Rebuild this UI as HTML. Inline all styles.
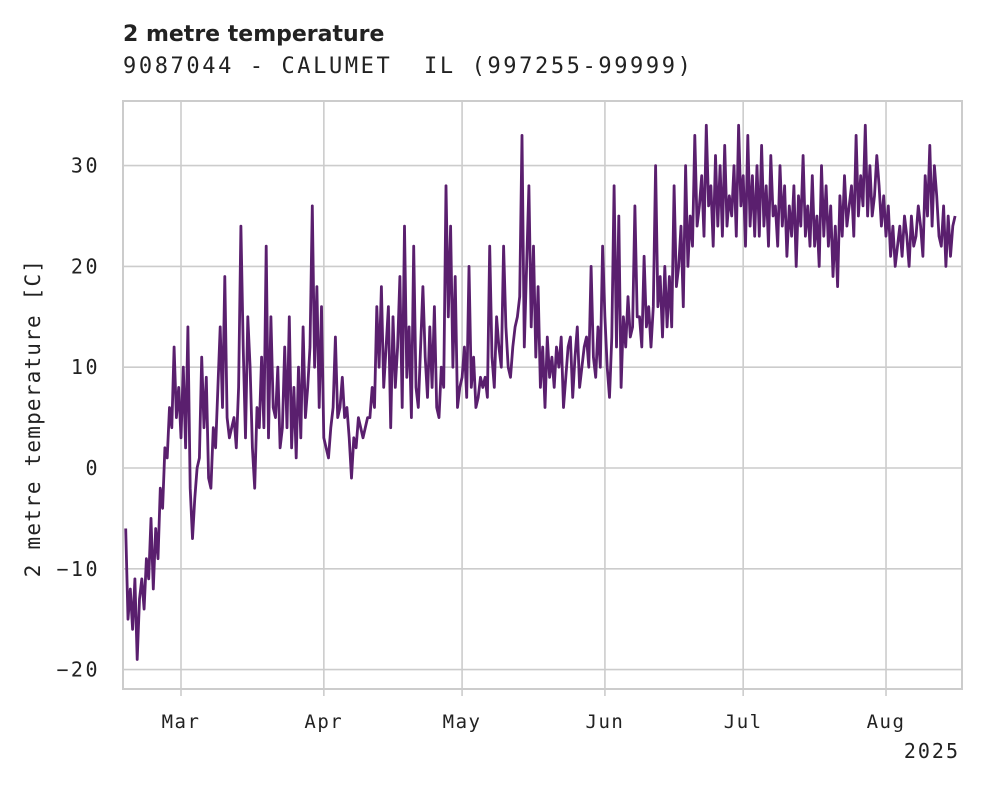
<!DOCTYPE html>
<html><head><meta charset="utf-8">
<style>
body{margin:0;background:#fff;width:981px;height:785px;overflow:hidden}
svg{display:block}
.mono{font-family:"DejaVu Sans Mono","Liberation Mono",monospace}
</style></head>
<body>
<svg id="chart" width="981" height="785">
  <text x="123" y="41" font-family="DejaVu Sans, Liberation Sans, sans-serif" font-weight="bold" font-size="22" fill="#222">2 metre temperature</text>
  <text x="123" y="73" class="mono" font-size="22" letter-spacing="2.6" fill="#222" xml:space="preserve">9087044 - CALUMET  IL (997255-99999)</text>
  <g id="grid"></g>
  <g id="axes"></g>
  <g id="series"></g>
  <rect x="123" y="101" width="839" height="588" fill="none" stroke="#ccc" stroke-width="2"/>
  <text transform="translate(40,418) rotate(-90)" text-anchor="middle" class="mono" font-size="21" letter-spacing="1.2" fill="#222">2 metre temperature [C]</text>
  <text x="960" y="758" text-anchor="end" class="mono" font-size="20" letter-spacing="2" fill="#222">2025</text>
</svg>
<script>
const yTicks=[-20,-10,0,10,20,30];
const monthLabels=["Mar","Apr","May","Jun","Jul","Aug"];
const monthDays=[12,43,73,104,134,165]; // days since Feb 17
const startDay=0, stepDays=0.5;
const temps=[
-6,-15,-12,-16,-11,-19,-13,-11,-14,-9,
-11,-5,-12,-6,-9,-2,-4,2,1,6,
4,12,5,8,3,10,2,14,-2,-7,
-3,0,1,11,4,9,-1,-2,4,2,
8,14,6,19,5,3,4,5,2,8,
24,12,3,15,10,2,-2,6,4,11,
4,22,3,15,6,5,10,2,4,12,
4,15,2,8,1,10,3,14,5,8,
12,26,10,18,6,16,3,2,1,4,
6,13,5,6,9,5,6,3,-1,3,
2,5,4,3,4,5,5,8,6,16,
10,18,8,12,16,4,15,8,12,19,
6,24,9,14,5,22,8,6,12,18,
11,7,14,8,16,6,5,10,8,28,
15,24,10,19,6,8,9,12,7,20,
8,11,6,7,9,8,9,7,22,11,
8,15,12,10,22,14,10,9,12,14,
15,17,33,12,20,28,14,22,11,18,
8,12,6,13,9,11,8,12,10,13,
6,9,12,13,7,11,14,8,10,12,
13,10,20,11,9,14,10,22,15,10,
7,13,28,12,25,8,15,12,17,13,
14,26,15,15,12,21,14,16,12,16,
30,16,19,13,20,14,19,14,28,18,
20,24,16,30,20,25,22,33,24,26,
29,23,34,26,28,22,31,24,30,23,
32,24,27,25,30,23,34,26,29,22,
33,24,29,23,30,23,32,24,28,22,
31,25,26,22,30,24,28,21,26,23,
28,20,27,24,31,23,26,22,29,22,
25,20,30,23,28,22,26,19,24,18,
27,23,29,24,26,28,23,33,25,29,
26,34,25,30,25,27,31,28,24,27,
23,26,21,24,20,22,24,21,25,23,
20,25,22,23,26,24,21,29,25,32,
24,30,27,23,22,26,20,25,21,24,
25];
const NS="http://www.w3.org/2000/svg";
const xScale=d=>125.7+d*4.608;
const yScale=v=>468-v*10.08;
const grid=document.getElementById('grid'), axes=document.getElementById('axes'), series=document.getElementById('series');
yTicks.forEach(t=>{
  const l=document.createElementNS(NS,'line');
  l.setAttribute('x1',123);l.setAttribute('x2',962);l.setAttribute('y1',yScale(t));l.setAttribute('y2',yScale(t));
  l.setAttribute('stroke','#ccc');l.setAttribute('stroke-width','1.6');
  
  
  grid.appendChild(l);
  const tx=document.createElementNS(NS,'text');
  tx.setAttribute('x',100);tx.setAttribute('y',yScale(t)+7);tx.setAttribute('text-anchor','end');
  tx.setAttribute('class','mono');tx.setAttribute('font-size','20');tx.setAttribute('letter-spacing','2.5');tx.setAttribute('fill','#222');
  tx.textContent=t<0?'\u2212'+Math.abs(t):String(t);
  
  
  axes.appendChild(tx);
});
monthDays.forEach((d,i)=>{
  const x=xScale(d);
  const l=document.createElementNS(NS,'line');
  l.setAttribute('x1',x);l.setAttribute('x2',x);l.setAttribute('y1',101);l.setAttribute('y2',689);
  l.setAttribute('stroke','#ccc');l.setAttribute('stroke-width','1.6');
  
  
  grid.appendChild(l);
  const tk=document.createElementNS(NS,'line');
  tk.setAttribute('x1',x);tk.setAttribute('x2',x);tk.setAttribute('y1',689);tk.setAttribute('y2',696);
  tk.setAttribute('stroke','#ccc');tk.setAttribute('stroke-width','1.6');
  
  
  axes.appendChild(tk);
  const tx=document.createElementNS(NS,'text');
  tx.setAttribute('x',x);tx.setAttribute('y',728);tx.setAttribute('text-anchor','middle');
  tx.setAttribute('class','mono');tx.setAttribute('font-size','19');tx.setAttribute('letter-spacing','1.5');tx.setAttribute('fill','#222');
  tx.textContent=monthLabels[i];
  
  
  axes.appendChild(tx);
});
const pts=temps.map((v,i)=>xScale(startDay+i*stepDays).toFixed(1)+','+yScale(v).toFixed(1)).join(' ');
const pl=document.createElementNS(NS,'polyline');
pl.setAttribute('points',pts);pl.setAttribute('fill','none');pl.setAttribute('stroke','#5a1f6e');
pl.setAttribute('stroke-width','2.8');pl.setAttribute('stroke-linejoin','round');


series.appendChild(pl);
</script>
</body></html>
